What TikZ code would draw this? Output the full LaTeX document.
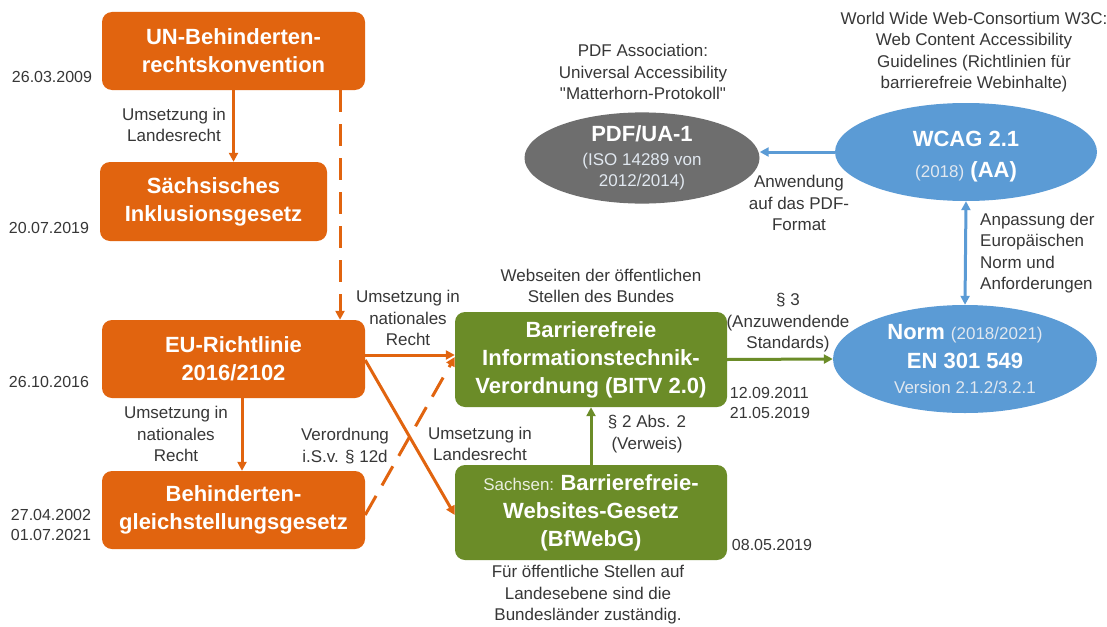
\documentclass[tikz,border=0pt]{standalone}
\usepackage{fontspec}
\setmainfont{Liberation Sans}
\newfontfamily\qf[Ligatures=TeXOff]{Liberation Sans}
\usetikzlibrary{arrows.meta,shapes.geometric}
\definecolor{orangec}{RGB}{225,100,15}
\definecolor{greenc}{RGB}{107,140,40}
\definecolor{bluec}{RGB}{91,155,213}
\definecolor{grayc}{RGB}{110,110,110}
\definecolor{txt}{RGB}{55,55,55}
\definecolor{lightw}{RGB}{225,232,240}
\tikzset{
  obox/.style={fill=orangec, rounded corners=10pt, text=white, align=center,
    minimum width=263pt, minimum height=78pt, inner sep=0pt,
    font=\fontsize{22}{28}\selectfont\bfseries},
  gbox/.style={obox, fill=greenc, minimum width=272pt, minimum height=95pt},
  ell/.style={ellipse, inner sep=0pt, text=white, align=center,
    font=\fontsize{22}{28}\selectfont\bfseries},
  lbl/.style={text=txt, align=center, inner sep=0pt,
    font=\fontsize{17}{21.5}\selectfont},
  dt/.style={text=txt, align=left, inner sep=0pt,
    font=\fontsize{16}{20}\selectfont},
  oarr/.style={draw=orangec, line width=3pt, -{Triangle[length=9pt,width=9pt]}},
  garr/.style={draw=greenc, line width=3pt, -{Triangle[length=9pt,width=9pt]}},
  barr/.style={draw=bluec, line width=3pt, -{Triangle[length=9pt,width=9pt]}},
  odash/.style={oarr, dash pattern=on 22pt off 12pt},
}
\newcommand{\lt}[1]{{\fontsize{17}{21}\selectfont\mdseries\color{lightw}#1}}
\begin{document}
\begin{tikzpicture}[x=1pt,y=-1pt]
\useasboundingbox (0,0) rectangle (1107,626);
\fill[white] (0,0) rectangle (1107,626);

% boxes
\node[obox] (un) at (233.5,51) {UN-Behinderten-\\rechtskonvention};
\node[obox, minimum width=227pt, minimum height=79pt] (sax) at (213.5,201.5) {Sächsisches\\Inklusionsgesetz};
\node[obox] (eu) at (233.5,359) {EU-Richtlinie\\2016/2102};
\node[obox] (bgg) at (233.5,510) {Behinderten-\\gleichstellungsgesetz};
\node[gbox] (bitv) at (591,359.5) {Barrierefreie\\Informationstechnik-\\Verordnung (BITV 2.0)};
\node[gbox] (bfweb) at (591,512.5) {{\fontsize{17}{28}\selectfont\mdseries\color{white!85!greenc}Sachsen: }Barrierefreie-\\Websites-Gesetz\\(BfWebG)};

% ellipses
\node[ell, fill=grayc, minimum width=235pt, minimum height=87pt] (pdf) at (642,158)
  {PDF/UA-1\\[-4pt]\lt{(ISO 14289 von}\\[-7pt]\lt{2012/2014)}};
\node[ell, fill=bluec, minimum width=262pt, minimum height=98pt] (wcag) at (966,152) {};
\node[ell] (wcagt) at (966,157) {WCAG 2.1\\[3pt]\lt{(2018)} (AA)};
\node[ell, fill=bluec, minimum width=264pt, minimum height=108pt] (norm) at (965,359)
  {Norm \lt{(2018/2021)}\\[1pt]EN 301 549\\[-3pt]\lt{Version 2.1.2/3.2.1}};

% dates
\node[dt] (d1) at (52,77) {26.03.2009};
\node[dt] (d2) at (49,228) {20.07.2019};
\node[dt] (d3) at (49,382) {26.10.2016};
\node[dt] (d4) at (51,525) {27.04.2002\\01.07.2021};
\node[dt] (d5) at (770,403) {12.09.2011\\21.05.2019};
\node[dt] (d6) at (772,545) {08.05.2019};

% labels
\node[lbl] (l1) at (174,125) {Umsetzung in\\Landesrecht};
\node[lbl] (l2) at (176,434) {Umsetzung in\\nationales\\Recht};
\node[lbl] (l3) at (345,446) {Verordnung\\i.S.v. § 12d};
\node[lbl] (l4) at (408,318) {Umsetzung in\\nationales\\Recht};
\node[lbl] (l5) at (480,444) {Umsetzung in\\Landesrecht};
\node[lbl] (l6) at (601,286) {Webseiten der öffentlichen\\Stellen des Bundes};
\node[lbl] (l7) at (647,434) {§ 2 Abs. 2\\(Verweis)};
\node[lbl] (l8) at (588,595) {Für öffentliche Stellen auf\\Landesebene sind die\\Bundesländer zuständig.};
\node[lbl] (l9) at (788,323) {§ 3\\(Anzuwendende\\Standards)};
\node[lbl] (l10) at (799,203) {Anwendung\\auf das PDF-\\Format};
\node[lbl, align=left, anchor=west] (l11) at (980,253) {Anpassung der\\Europäischen\\Norm und\\Anforderungen};
\node[lbl] (l12) at (643,72) {PDF Association:\\Universal Accessibility\\{\qf"Matterhorn-Protokoll"}};
\node[lbl] (l13) at (974,52) {World Wide Web-Consortium W3C:\\Web Content Accessibility\\Guidelines (Richtlinien für\\barrierefreie Webinhalte)};

% connectors
\draw[oarr] (un.south) -- (un.south |- sax.north);
\draw[odash] ([xshift=106.5pt]un.south) -- ([xshift=106.5pt]eu.north);
\draw[oarr] ([xshift=8.5pt]eu.south) -- ([xshift=8.5pt]bgg.north);
\draw[oarr] ([yshift=4pt]eu.east) -- ([yshift=4.5pt]bitv.west);
\draw[oarr] ([yshift=-1pt]eu.east) -- ([yshift=-2.5pt]bfweb.west);
\draw[odash] ([yshift=-5pt]bgg.east) -- ([yshift=2.5pt]bitv.west);
\draw[garr] (bfweb.north) -- (bitv.south);
\draw[garr] (bitv.east) -- (norm.west);
\draw[barr] (wcag.west) -- (pdf.east |- wcag.west);
\draw[draw=bluec, line width=3pt, {Triangle[length=9pt,width=9pt]}-{Triangle[length=9pt,width=9pt]}] (wcag.south) -- (norm.north);
\end{tikzpicture}
\end{document}
